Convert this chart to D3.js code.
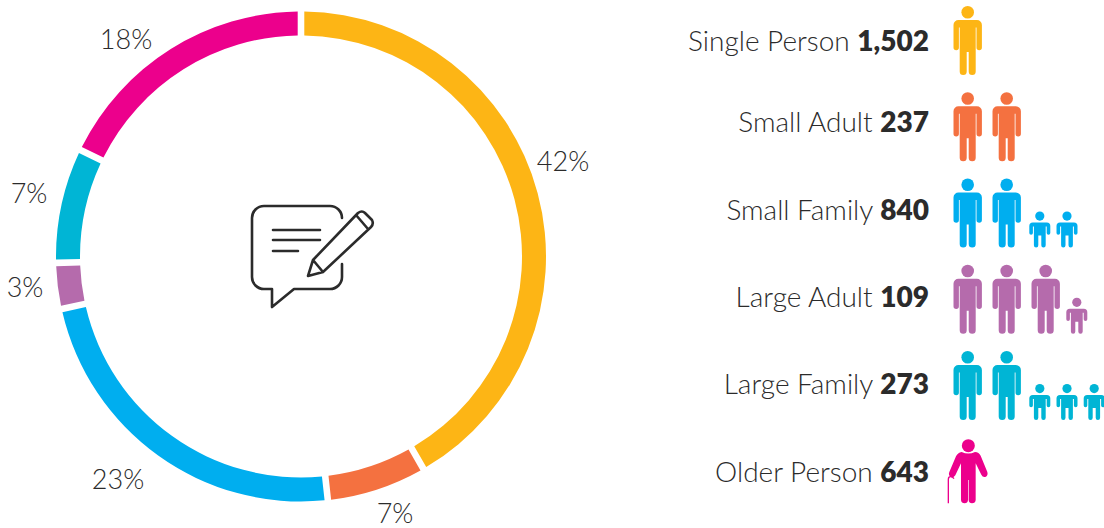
<!DOCTYPE html>
<html><head><meta charset="utf-8">
<script src="https://cdn.jsdelivr.net/npm/d3@7/dist/d3.min.js"></script>
<style>html,body{margin:0;padding:0;background:#fff}svg{display:block}
text{font-family:Lato,"Open Sans",sans-serif;fill:#2b2b2b}</style></head>
<body><svg id="c" width="1104" height="528"></svg>
<script>
const categories = ["Single Person","Small Adult","Small Family","Large Adult","Large Family","Older Person"];
const counts = [1502,237,840,109,273,643];
const percentLabels = ["42%","7%","23%","3%","7%","18%"];
const adults = [1,2,2,3,2,0];
const children = [0,0,2,1,3,0];
const elders = [0,0,0,0,0,1];
const colors = ["#FDB515","#F47140","#00AEEF","#B56BAC","#00B5D5","#EC008C"];

const svg = d3.select("#c");
const cx=301, cy=256.5, R=245, r=221;
// donut
const pie = d3.pie().sort(null).value(d=>d)(counts);
const arc = d3.arc().innerRadius(r).outerRadius(R).padAngle(0.02);
const g = svg.append("g").attr("transform",`translate(${cx},${cy})`);
g.selectAll("path").data(pie).join("path").attr("d",arc).attr("fill",(d,i)=>colors[i]);

// percent labels
svg.append("g").selectAll("text").data(percentLabels).join("text")
  .attr("text-anchor","middle").attr("font-size",27).attr("font-weight",300)
  .attr("x",(d,i)=>[563,395,118,25,29,126][i])
  .attr("y",(d,i)=>[171,523,489,297,203,49][i])
  .text(d=>d);

// centre icon
const ic=svg.append("g").attr("fill","none").attr("stroke","#2b2b2b").attr("stroke-width",2.6).attr("stroke-linejoin","round").attr("stroke-linecap","round");
ic.append("path").attr("d","M342 264V277A12 12 0 0 1 330 289H294L272 307V289H264A12 12 0 0 1 252 277V218A12 12 0 0 1 264 206H330A12 12 0 0 1 342 218");
ic.append("path").attr("d","M273 230H320M273 240H320M273 251H298");
ic.append("path").attr("d","M308 276L313 260L358 213Q362 210 365 213L372 220Q374 224 371 227L323 272ZM313 260L323 272M356 215L368 229");

// people
const rowY = d3.scalePoint().domain(categories).range([6,437.25]);
const adultX = d3.scaleLinear().domain([0,1]).range([953.5,992.5]);
const kidStart = d3.scaleLinear().domain([2,3]).range([1029.3,1066.3]);
const kidStep = 27.2;
const adultBody="M5 14H23.4A5 5 0 0 1 28.4 19V41.5A2.7 2.7 0 0 1 23 41.5V21.5H22.2V65.5A3.5 3.5 0 0 1 15.2 65.5V46H13.2V65.5A3.5 3.5 0 0 1 6.2 65.5V21.5H5.4V41.5A2.7 2.7 0 0 1 0 41.5V19A5 5 0 0 1 5 14Z";
const kidBody="M3.5 11H17.5A3.5 3.5 0 0 1 21 14.5V21.5A1.8 1.8 0 0 1 17.4 21.5V15H16.4V33.8A2.2 2.2 0 0 1 12 33.8V24H9V33.8A2.2 2.2 0 0 1 4.6 33.8V15H3.6V21.5A1.8 1.8 0 0 1 0 21.5V14.5A3.5 3.5 0 0 1 3.5 11Z";
const elderBody="M65 336Q85 345 105 336Q117 337 122 347L142 396Q145 407 136 411Q128 413 124 404L107 370V480Q106 490 96 490Q87 490 86 480V420H84V480Q83 490 74 490Q64 490 63 480V370L46 406Q40 415 32 411Q24 405 28 396L48 349Q53 338 65 336Z";

categories.forEach((c,i)=>{
  const y=rowY(c), col=colors[i];
  const row=svg.append("g").attr("fill",col);
  d3.range(adults[i]).forEach(k=>{
    const p=row.append("g").attr("transform",`translate(${adultX(k)},${y})`);
    p.append("circle").attr("cx",14.2).attr("cy",6.2).attr("r",6.3);
    p.append("path").attr("d",adultBody);
  });
  d3.range(children[i]).forEach(k=>{
    const p=row.append("g").attr("transform",`translate(${kidStart(adults[i])+k*kidStep},${y+33})`);
    p.append("circle").attr("cx",10.5).attr("cy",4.6).attr("r",4.6);
    p.append("path").attr("d",kidBody);
  });
  d3.range(elders[i]).forEach(()=>{
    const p=row.append("g").attr("transform",`translate(940,340) scale(${1/3})`);
    p.append("circle").attr("cx",85).attr("cy",317).attr("r",19.5);
    p.append("path").attr("d",elderBody);
    p.append("path").attr("d","M25 490V418Q25 410 32 410Q38 410 42 416").attr("fill","none").attr("stroke",col).attr("stroke-width",4);
  });
});

// row labels
const labelBase=[51,132,220,307,394,482];
const t=svg.append("g").selectAll("text").data(categories).join("text")
  .attr("text-anchor","end").attr("x",929).attr("y",(d,i)=>labelBase[i]).attr("font-size",28);
t.append("tspan").attr("font-weight",300).text(d=>d+" ");
t.append("tspan").attr("font-weight",800).text((d,i)=>d3.format(",")(counts[i]));
</script></body></html>
